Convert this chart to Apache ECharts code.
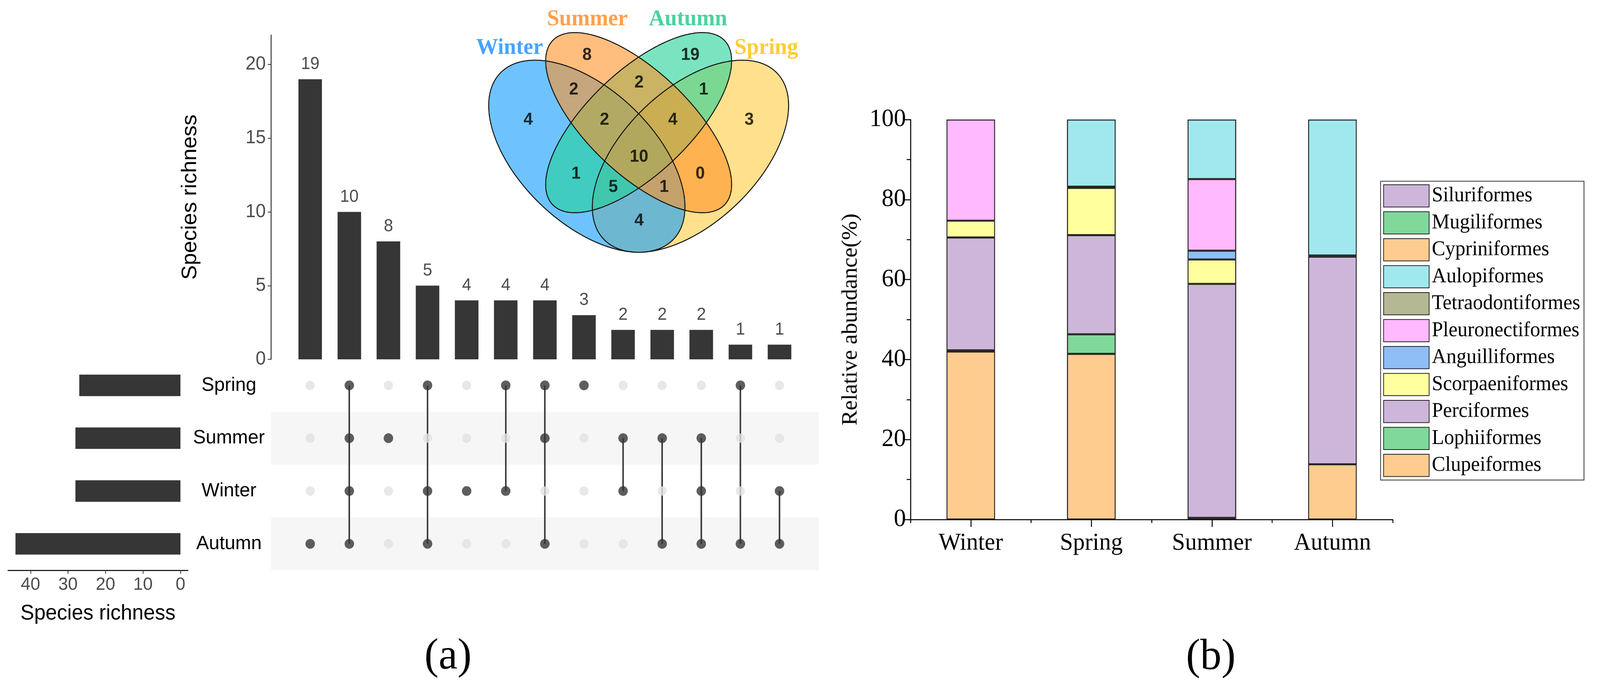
<!DOCTYPE html>
<html><head><meta charset="utf-8">
<script src="https://cdn.jsdelivr.net/npm/echarts@6/dist/echarts.min.js"></script>
<style>html,body{margin:0;padding:0;background:#fff;overflow:hidden}#c{width:4214px;height:1764px;transform-origin:0 0}</style>
</head><body><div id="c"></div>
<script>
// ---------------- DATA ----------------
// (a) UpSet plot
const upsetSets = ['Spring', 'Summer', 'Winter', 'Autumn'];
const setSizes = [27, 28, 28, 44];
const intersectionSizes = [19, 10, 8, 5, 4, 4, 4, 3, 2, 2, 2, 1, 1];
const intersectionMembers = [
  ['Autumn'],
  ['Spring', 'Summer', 'Winter', 'Autumn'],
  ['Summer'],
  ['Spring', 'Winter', 'Autumn'],
  ['Winter'],
  ['Spring', 'Winter'],
  ['Spring', 'Summer', 'Autumn'],
  ['Spring'],
  ['Summer', 'Winter'],
  ['Summer', 'Autumn'],
  ['Summer', 'Winter', 'Autumn'],
  ['Spring', 'Autumn'],
  ['Winter', 'Autumn']
];
const upsetYTicks = [0, 5, 10, 15, 20];
const setSizeTicks = [0, 10, 20, 30, 40];

// (a) Venn diagram
const vennSets = ['Winter', 'Summer', 'Autumn', 'Spring'];
const vennRegions = ['W', 'Su', 'A', 'Sp', 'W-Su', 'Su-A', 'A-Sp', 'W-Su-A', 'Su-A-Sp', 'W-Su-A-Sp', 'W-A', 'W-A-Sp', 'W-Sp', 'W-Su-Sp', 'Su-Sp'];
const vennCounts = [4, 8, 19, 3, 2, 2, 1, 2, 4, 10, 1, 5, 4, 1, 0];

// (b) relative abundance (%) per season
const seasons = ['Winter', 'Spring', 'Summer', 'Autumn'];
const orders = ['Siluriformes', 'Mugiliformes', 'Cypriniformes', 'Aulopiformes', 'Tetraodontiformes',
  'Pleuronectiformes', 'Anguilliformes', 'Scorpaeniformes', 'Perciformes', 'Lophiiformes', 'Clupeiformes'];
const clupeiformes      = [42.0, 41.4, 0.4, 13.8];
const lophiiformes      = [0.3, 4.9, 0, 0];
const perciformes       = [28.2, 24.8, 58.5, 51.9];
const scorpaeniformes   = [4.2, 11.8, 6.1, 0];
const anguilliformes    = [0, 0, 2.2, 0];
const pleuronectiformes = [25.3, 0, 17.9, 0];
const tetraodontiformes = [0, 0.3, 0, 0.3];
const aulopiformes      = [0, 16.8, 14.9, 34.0];
const cypriniformes     = [0, 0, 0, 0];
const mugiliformes      = [0, 0, 0, 0];
const siluriformes      = [0, 0, 0, 0];

// ---------------- LAYOUT / STYLE ----------------
const SANS = 'Liberation Sans, Arial, sans-serif';
const SERIF = 'Liberation Serif, Times New Roman, serif';
const DARK = '#363636';
// Venn ellipses in venn-grid units: cx, cy, rx, ry, rotation(deg) -- order matches vennSets
const VENN_ELLIPSES = [
  [1545.5, 400, 312, 173, 42.3],
  [1682, 314, 309, 133, 42.5],
  [1682, 314, 309, 133, -42.5],
  [1818.5, 400, 312, 173, -42.3]
];
const VENN_FILLS = ['rgba(13,155,255,0.6)', 'rgba(255,147,38,0.6)', 'rgba(33,210,150,0.6)', 'rgba(255,203,63,0.6)'];
const VENN_DRAW_ORDER = [3, 0, 2, 1]; // Spring, Winter, Autumn, Summer (bottom -> top)
const VENN_LABEL_COLORS = ['#1a8cff', '#ff8a1e', '#1dc888', '#ffc000'];
const VENN_SET_LABEL_POS = [[1342, 123], [1547, 50], [1812, 50], [2018, 123]];
const VENN_REGION_POS = [[1391, 307], [1546, 141], [1818, 141], [1973, 307], [1511, 230], [1683, 212], [1853, 230],
  [1592, 307], [1772, 307], [1683, 402], [1517, 445], [1615, 479], [1683, 565], [1749, 479], [1844, 445]];
const ORDER_COLORS = {
  Siluriformes: '#ceb6da', Mugiliformes: '#80d89a', Cypriniformes: '#ffcc90', Aulopiformes: '#a0e8ee',
  Tetraodontiformes: '#b5b892', Pleuronectiformes: '#ffb9ff', Anguilliformes: '#8fbef7',
  Scorpaeniformes: '#ffff9e', Perciformes: '#ceb6da', Lophiiformes: '#80d89a', Clupeiformes: '#ffcc90'
};
const orderValues = {
  Siluriformes: siluriformes, Mugiliformes: mugiliformes, Cypriniformes: cypriniformes, Aulopiformes: aulopiformes,
  Tetraodontiformes: tetraodontiformes, Pleuronectiformes: pleuronectiformes, Anguilliformes: anguilliformes,
  Scorpaeniformes: scorpaeniformes, Perciformes: perciformes, Lophiiformes: lophiiformes, Clupeiformes: clupeiformes
};

// ---------------- BUILD ----------------
const lightDots = [], darkDots = [], links = [];
intersectionMembers.forEach((mem, i) => {
  const rows = [];
  upsetSets.forEach((s, r) => {
    if (mem.includes(s)) { darkDots.push([i + 1, r]); rows.push(r); }
    else lightDots.push([i + 1, r]);
  });
  if (rows.length > 1) links.push([i + 1, Math.min(...rows), Math.max(...rows)]);
});

function ellipsePts(e) {
  const [cx, cy, rx, ry, deg] = e, th = deg * Math.PI / 180, pts = [];
  for (let k = 0; k < 240; k++) {
    const t = 2 * Math.PI * k / 240;
    pts.push([cx + rx * Math.cos(t) * Math.cos(th) - ry * Math.sin(t) * Math.sin(th),
              cy + rx * Math.cos(t) * Math.sin(th) + ry * Math.sin(t) * Math.cos(th)]);
  }
  return pts;
}

const stackSeries = orders.slice().reverse().map(name => ({
  type: 'bar', name, stack: 'ab', xAxisIndex: 4, yAxisIndex: 4, barWidth: 128,
  itemStyle: { color: ORDER_COLORS[name], borderColor: '#222', borderWidth: 2.5 },
  data: orderValues[name].map(v => v === 0 ? null : v)
}));

const vennOrdered = VENN_DRAW_ORDER.map(i => ({ name: vennSets[i], value: [i, i] }));

const option = {
  animation: false,
  backgroundColor: '#fff',
  grid: [
    { left: 714, top: 89.5, width: 1442, height: 830.5 },  // 0 upset bars
    { left: 714, top: 919, width: 1442, height: 541 },     // 1 matrix
    { left: 21, top: 919, width: 474, height: 541 },       // 2 set size bars
    { left: 1230, top: 0, width: 900, height: 700 },       // 3 venn
    { left: 2398, top: 306, width: 1270, height: 1024 },   // 4 stacked
    { left: 2398, top: 306, width: 1270, height: 1024 }    // 5 minor x ticks
  ],
  xAxis: [
    { gridIndex: 0, type: 'value', min: 0, max: 14, show: false },
    { gridIndex: 1, type: 'value', min: 0, max: 14, show: false },
    { gridIndex: 2, type: 'value', inverse: true, min: -2, max: 46, position: 'bottom',
      axisLine: { show: true, lineStyle: { color: '#000', width: 2.5 } },
      axisTick: { show: true, length: 9, customValues: setSizeTicks, lineStyle: { color: '#333', width: 2 } },
      axisLabel: { customValues: setSizeTicks, fontSize: 46, color: '#4d4d4d', fontFamily: SANS, margin: 14 },
      splitLine: { show: false },
      name: 'Species richness', nameLocation: 'middle', nameGap: 84,
      nameTextStyle: { fontSize: 54, color: '#000', fontFamily: SANS } },
    { gridIndex: 3, type: 'value', min: 1230, max: 2130, show: false },
    { gridIndex: 4, type: 'category', data: seasons,
      axisLine: { show: true, lineStyle: { color: '#000', width: 2.5 } },
      axisTick: { show: true, alignWithLabel: true, length: 19, lineStyle: { color: '#000', width: 2.5 } },
      axisLabel: { fontSize: 62, color: '#000', fontFamily: SERIF, margin: 30 } },
    { gridIndex: 5, type: 'value', min: 0, max: 4, interval: 1,
      axisLine: { show: false }, axisLabel: { show: false }, splitLine: { show: false },
      axisTick: { show: true, length: 9, lineStyle: { color: '#000', width: 2.5 } } }
  ],
  yAxis: [
    { gridIndex: 0, type: 'value', min: 0, max: 22,
      axisLine: { show: true, lineStyle: { color: '#000', width: 2 } },
      axisTick: { show: true, length: 9, customValues: upsetYTicks, lineStyle: { color: '#333', width: 2 } },
      axisLabel: { customValues: upsetYTicks, fontSize: 48, color: '#4d4d4d', fontFamily: SANS, margin: 14 },
      splitLine: { show: false },
      name: 'Species richness', nameLocation: 'middle', nameGap: 185,
      nameTextStyle: { fontSize: 56, color: '#000', fontFamily: SANS } },
    { gridIndex: 1, type: 'category', data: upsetSets, inverse: true,
      axisLine: { show: false }, axisTick: { show: false },
      axisLabel: { fontSize: 50, color: '#000', fontFamily: SANS, align: 'center', margin: 111 },
      splitArea: { show: true, areaStyle: { color: ['rgba(255,255,255,0)', '#f6f6f6'] } } },
    { gridIndex: 2, type: 'category', data: upsetSets, inverse: true, show: false },
    { gridIndex: 3, type: 'value', min: 0, max: 700, inverse: true, show: false },
    { gridIndex: 4, type: 'value', min: 0, max: 100, interval: 20,
      axisLine: { show: true, lineStyle: { color: '#000', width: 2.5 } },
      axisTick: { show: true, length: 18, lineStyle: { color: '#000', width: 2.5 } },
      minorTick: { show: true, splitNumber: 2, length: 10, lineStyle: { color: '#000', width: 2.5 } },
      axisLabel: { fontSize: 64, color: '#000', fontFamily: SERIF, margin: 12 },
      splitLine: { show: false },
      name: 'Relative abundance(%)', nameLocation: 'middle', nameGap: 128,
      nameTextStyle: { fontSize: 58, color: '#000', fontFamily: SERIF } },
    { gridIndex: 5, type: 'value', min: 0, max: 100, show: false }
  ],
  legend: {
    data: orders, orient: 'vertical', left: 3636, top: 464, padding: [8, 10, 8, 7],
    itemWidth: 120, itemHeight: 57, itemGap: 10, icon: 'rect', selectedMode: false,
    borderColor: '#333', borderWidth: 2,
    textStyle: { fontFamily: SERIF, fontSize: 53, color: '#000', padding: [0, 0, 0, 2] }
  },
  graphic: [
    { type: 'text', x: 1180, y: 1682, style: { text: '(a)', font: '112px ' + SERIF, fill: '#000', align: 'center', verticalAlign: 'middle' } },
    { type: 'text', x: 3189, y: 1683, style: { text: '(b)', font: '112px ' + SERIF, fill: '#000', align: 'center', verticalAlign: 'middle' } }
  ],
  series: [
    { type: 'bar', xAxisIndex: 0, yAxisIndex: 0, barWidth: 62,
      data: intersectionSizes.map((v, i) => [i + 1, v]),
      itemStyle: { color: DARK },
      label: { show: true, position: 'top', distance: 16, fontSize: 44, color: '#4d4d4d', fontFamily: SANS,
        formatter: p => p.value[1] } },
    { type: 'bar', xAxisIndex: 2, yAxisIndex: 2, barWidth: 55, data: setSizes, itemStyle: { color: DARK } },
    { type: 'scatter', xAxisIndex: 1, yAxisIndex: 1, data: lightDots, symbolSize: 24, itemStyle: { color: '#e2e2e2' } },
    { type: 'custom', xAxisIndex: 1, yAxisIndex: 1, data: links, encode: { x: 0, y: [1, 2] },
      renderItem: (params, api) => {
        const a = api.coord([api.value(0), api.value(1)]);
        const b = api.coord([api.value(0), api.value(2)]);
        return { type: 'line', shape: { x1: a[0], y1: a[1], x2: b[0], y2: b[1] }, style: { stroke: DARK, lineWidth: 4 } };
      } },
    { type: 'scatter', xAxisIndex: 1, yAxisIndex: 1, data: darkDots, symbolSize: 25, itemStyle: { color: DARK }, z: 5 },
    // Venn fills
    { type: 'custom', xAxisIndex: 3, yAxisIndex: 3, data: vennOrdered, encode: { x: 0, y: 1 }, z: 6,
      renderItem: (params, api) => {
        const idx = api.value(0);
        return { type: 'polygon', shape: { points: ellipsePts(VENN_ELLIPSES[idx]).map(p => api.coord(p)) },
          style: { fill: VENN_FILLS[idx], stroke: 'none' } };
      } },
    // Venn outlines
    { type: 'custom', xAxisIndex: 3, yAxisIndex: 3, data: vennOrdered, encode: { x: 0, y: 1 }, z: 7,
      renderItem: (params, api) => {
        const idx = api.value(0);
        return { type: 'polygon', shape: { points: ellipsePts(VENN_ELLIPSES[idx]).map(p => api.coord(p)) },
          style: { fill: 'none', stroke: '#111', lineWidth: 2.5 } };
      } },
    { type: 'scatter', xAxisIndex: 3, yAxisIndex: 3, z: 8, symbolSize: 1, itemStyle: { color: 'rgba(0,0,0,0)' },
      data: vennCounts.map((c, i) => ({ name: vennRegions[i], value: [VENN_REGION_POS[i][0], VENN_REGION_POS[i][1], c] })),
      label: { show: true, position: 'inside', formatter: p => p.value[2], fontSize: 44, fontWeight: 'bold', color: '#000', fontFamily: SANS } },
    { type: 'scatter', xAxisIndex: 3, yAxisIndex: 3, z: 8, symbolSize: 1, itemStyle: { color: 'rgba(0,0,0,0)' },
      data: vennSets.map((s, i) => ({ name: s, value: VENN_SET_LABEL_POS[i], label: { color: VENN_LABEL_COLORS[i] } })),
      label: { show: true, position: 'inside', formatter: '{b}', fontSize: 58, fontWeight: 'bold', fontFamily: SERIF } },
    ...stackSeries
  ]
};

// The viewport may be narrower than the 4214px design width: scale the whole figure to fit it.
const el = document.getElementById('c');
const fitX = Math.min(1, window.innerWidth / 4214), fitY = Math.min(1, window.innerHeight / 1764);
if (fitX < 1 || fitY < 1) el.style.transform = 'scale(' + fitX + ',' + fitY + ')';
const chart = echarts.init(el, null, { devicePixelRatio: 1.5 });
chart.setOption(option);
</script></body></html>
